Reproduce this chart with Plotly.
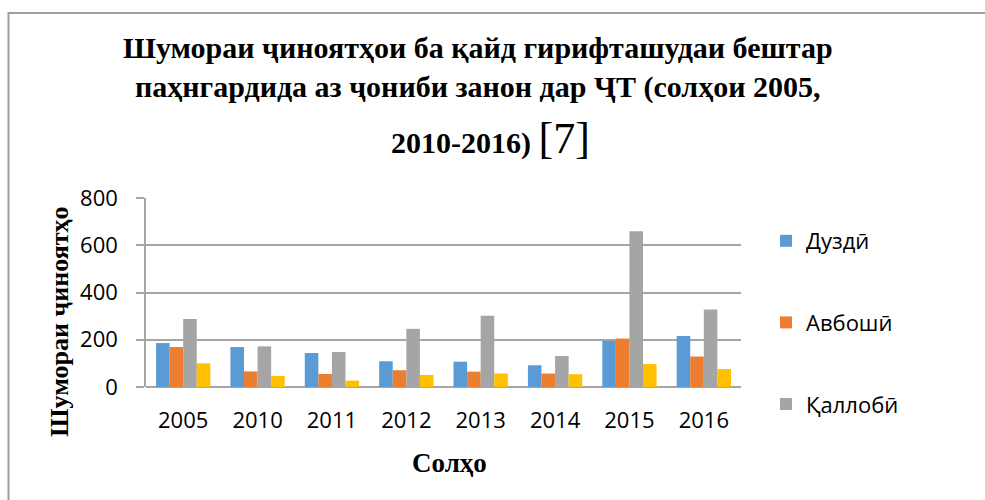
import plotly.graph_objects as go

years = ["2005", "2010", "2011", "2012", "2013", "2014", "2015", "2016"]
theft = [186, 169, 144, 109, 107, 92, 195, 216]
robbery = [169, 66, 55, 71, 65, 57, 205, 129]
fraud = [288, 172, 148, 246, 302, 131, 659, 328]
other = [100, 47, 27, 51, 57, 54, 97, 76]

series = [
    ("Дуздӣ", theft, "#5B9BD5", True),
    ("Авбошӣ", robbery, "#ED7D31", True),
    ("Қаллобӣ", fraud, "#A5A5A5", True),
    ("Силсилаи 4", other, "#FFC000", False),
]

W, H = 985, 500
L, R, T, B = 146, 741, 198, 387  # plot area in pixels


def px(x):
    return (x - L) / (R - L)


def py(y):
    return (B - y) / (B - T)


fig = go.Figure()
for i, (name, vals, color, show) in enumerate(series):
    fig.add_trace(go.Bar(
        x=years, y=vals, name=name, marker_color=color,
        marker_line_width=0, showlegend=show, legendgroup=f"g{i}",
    ))

serif = "Liberation Serif"
sans = "Open Sans"

fig.update_layout(
    width=W, height=H,
    margin=dict(l=L, r=W - R, t=T, b=H - B, pad=0, autoexpand=False),
    paper_bgcolor="white", plot_bgcolor="white",
    barmode="group", bargap=0.27, bargroupgap=0,
    font=dict(family=sans, size=22, color="black"),
    legend=dict(
        x=px(766), y=py(220), xanchor="left", yanchor="top",
        traceorder="grouped", tracegroupgap=50, maxheight=400,
        font=dict(family=sans, size=22, color="black"),
        bgcolor="rgba(0,0,0,0)",
    ),
    xaxis=dict(
        showgrid=False, showline=False, ticks="",
        tickfont=dict(family=sans, size=22),
        ticklabelstandoff=18,
    ),
    yaxis=dict(
        range=[0, 800], dtick=200, tick0=0,
        showgrid=True, gridcolor="#A6A6A6", gridwidth=1.5,
        zeroline=True, zerolinecolor="#A6A6A6", zerolinewidth=2,
        showline=True, linecolor="#A6A6A6", linewidth=1.5,
        ticks="outside", ticklen=8, tickcolor="#A6A6A6", tickwidth=1.5,
        tickfont=dict(family=sans, size=22),
        ticklabelstandoff=14,
    ),
)

annotations = [
    dict(text="Шумораи ҷиноятҳои ба қайд гирифташудаи бештар",
         x=px(478), y=py(47), font=dict(family=serif, size=30, weight="bold")),
    dict(text="паҳнгардида аз ҷониби занон дар ҶТ (солҳои 2005,",
         x=px(478), y=py(87), font=dict(family=serif, size=30, weight="bold")),
    dict(text="2010-2016) <span style='font-size:44px;font-weight:normal'>[7]</span>",
         x=px(490), y=py(138), font=dict(family=serif, size=30, weight="bold")),
    dict(text="Шумораи ҷиноятҳо", x=px(59), y=py(322), textangle=-90,
         font=dict(family=serif, size=26, weight="bold")),
    dict(text="Солҳо", x=px(449), y=py(463),
         font=dict(family=serif, size=27, weight="bold")),
]
for a in annotations:
    a.update(xref="paper", yref="paper", showarrow=False,
             xanchor="center", yanchor="middle")
    fig.add_annotation(**a)

# outer chart frame
fig.add_shape(type="rect", xref="paper", yref="paper",
              x0=px(8.5), y0=py(520), x1=px(1000), y1=py(13),
              line=dict(color="#A0A0A0", width=2), fillcolor="rgba(0,0,0,0)",
              layer="below")

fig.write_html("out.html", config={"displayModeBar": False},
               post_script="document.body.style.margin='0';")
